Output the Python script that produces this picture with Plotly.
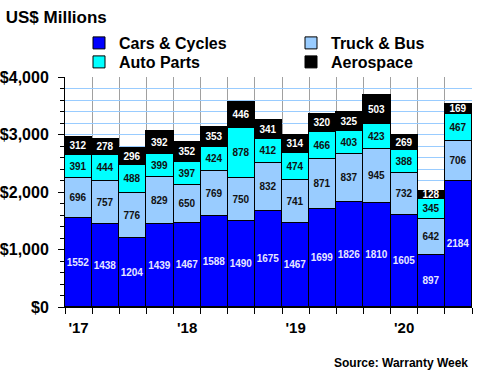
import plotly.graph_objects as go

quarters = list(range(15))
year_ticks = [0, 4, 8, 12]
year_labels = ["'17", "'18", "'19", "'20"]

cars = [1552, 1438, 1204, 1439, 1467, 1588, 1490, 1675, 1467, 1699, 1826, 1810, 1605, 897, 2184]
truck = [696, 757, 776, 829, 650, 769, 750, 832, 741, 871, 837, 945, 732, 642, 706]
parts = [391, 444, 488, 399, 397, 424, 878, 412, 474, 466, 403, 423, 388, 345, 467]
aero = [312, 278, 296, 392, 352, 353, 446, 341, 314, 320, 325, 503, 269, 128, 169]

series = [
    ("Cars & Cycles", cars, "#0000FF", "#E6E6FF", "legend"),
    ("Truck & Bus", truck, "#99CCFF", "#111111", "legend2"),
    ("Auto Parts", parts, "#00FFFF", "#111111", "legend3"),
    ("Aerospace", aero, "#000000", "#FFFFFF", "legend4"),
]

FONT = "Arial, Liberation Sans, sans-serif"

fig = go.Figure()
for name, vals, color, tcolor, leg in series:
    fig.add_trace(go.Bar(
        x=quarters, y=vals, name=name, width=1, legend=leg,
        marker=dict(color=color, line=dict(color="black", width=1)),
        text=[str(v) for v in vals], textposition="inside",
        insidetextanchor="middle", textangle=0,
        textfont=dict(family=FONT, size=10, color=tcolor, weight="bold"),
        cliponaxis=False,
    ))

leg_common = dict(orientation="v", xref="container", yref="container",
                  xanchor="left", yanchor="top",
                  font=dict(size=16, family=FONT, weight="bold", color="black"),
                  traceorder="normal", itemclick=False,
                  bgcolor="rgba(0,0,0,0)", borderwidth=0)

col1, col2 = 79 / 480, 291 / 480
row1, row2 = 1 - 26 / 380, 1 - 45 / 380

fig.update_layout(
    barmode="stack", bargap=0,
    width=480, height=380,
    margin=dict(l=65, r=8, t=77, b=73, autoexpand=False),
    paper_bgcolor="white", plot_bgcolor="white",
    font=dict(family=FONT, color="black"),
    uniformtext=dict(mode="show", minsize=10),
    title=dict(text="<b>US$ Millions</b>", font=dict(size=17, family=FONT, color="black"),
               xref="container", x=0.012, xanchor="left",
               yref="container", y=0.956, yanchor="middle"),
    legend=dict(x=col1, y=row1, **leg_common),
    legend2=dict(x=col2, y=row1, **leg_common),
    legend3=dict(x=col1, y=row2, **leg_common),
    legend4=dict(x=col2, y=row2, **leg_common),
    showlegend=True,
)

fig.update_xaxes(
    range=[-0.5, 14.5], tickmode="array", tickvals=year_ticks, ticktext=year_labels,
    ticks="outside", ticklen=0, showgrid=False, ticklabelstandoff=7,
    tickfont=dict(size=15, family=FONT, weight="bold"),
    showline=True, linecolor="black", linewidth=1, automargin=False,
    minor=dict(tick0=-0.5, dtick=1, ticks="outside", ticklen=6, tickcolor="black",
               showgrid=True, gridcolor="#A0A0A0", gridwidth=1),
    zeroline=False,
)
fig.update_yaxes(
    range=[0, 4000], dtick=1000, tickprefix="$", tickformat=",",
    ticks="outside", ticklen=6, tickcolor="black", ticklabelstandoff=6,
    tickfont=dict(size=16, family=FONT, weight="bold"),
    showline=True, linecolor="black", linewidth=1, automargin=False,
    showgrid=True, gridcolor="#99CCFF", gridwidth=1,
    minor=dict(dtick=200, ticks="outside", ticklen=4, tickcolor="black",
               showgrid=True, gridcolor="#99CCFF", gridwidth=1),
    zeroline=False,
)

fig.add_annotation(text="<b>Source: Warranty Week</b>", xref="paper", yref="paper",
                   x=0.995, xanchor="right", y=-0.243, yanchor="middle", showarrow=False,
                   font=dict(size=12, family=FONT, color="black"))

fig.write_html("out.html", config={"displayModeBar": False},
               post_script="document.body.style.margin='0';")
